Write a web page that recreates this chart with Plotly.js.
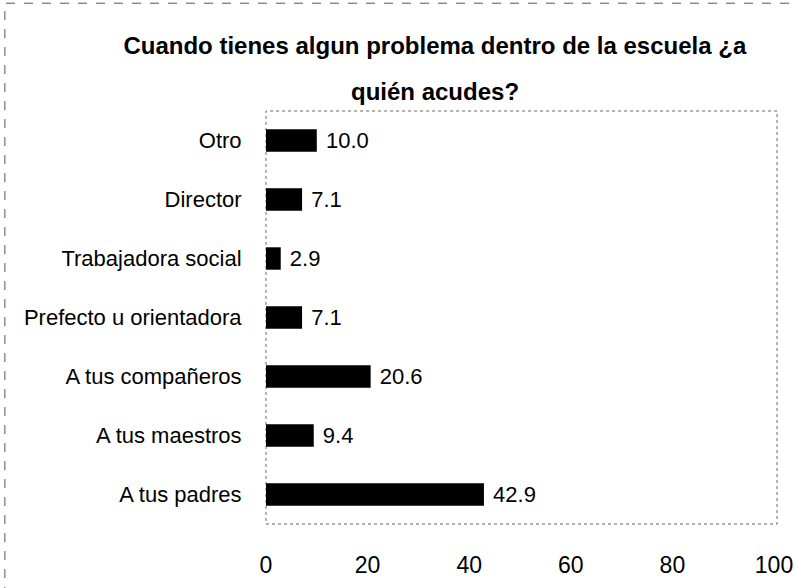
<!DOCTYPE html>
<html>
<head>
<meta charset="utf-8">
<script src="https://cdn.plot.ly/plotly-3.0.1.min.js"></script>
<style>html,body{margin:0;padding:0;background:#fff;}#chart{width:795px;height:588px;}</style>
</head>
<body>
<div id="chart"></div>
<script>
var categories = ["A tus padres", "A tus maestros", "A tus compañeros", "Prefecto u orientadora", "Trabajadora social", "Director", "Otro"];
var values = [42.9, 9.4, 20.6, 7.1, 2.9, 7.1, 10.0];
var xTicks = [0, 20, 40, 60, 80, 100];
var titleLine1 = "Cuando tienes algun problema dentro de la escuela ¿a";
var titleLine2 = "quién acudes?";

var font = "Liberation Sans, Arial, sans-serif";

var trace = {
  type: "bar",
  orientation: "h",
  y: categories,
  x: values,
  marker: {color: "#000000"},
  width: 0.38,
  text: values.map(function(v){return "\u00a0" + v.toFixed(1);}),
  textposition: "outside",
  constraintext: "none",
  textfont: {family: font, size: 22, color: "#000"},
  cliponaxis: false,
  hoverinfo: "skip"
};

var layout = {
  width: 795, height: 588,
  paper_bgcolor: "#fff", plot_bgcolor: "#fff",
  margin: {l: 266, r: 21, t: 111, b: 64},
  showlegend: false,
  title: {
    text: "<b>" + titleLine1 + "</b>",
    font: {family: font, size: 24, color: "#000"},
    x: 0.547, xref: "container", xanchor: "center",
    y: 0.923, yref: "container", yanchor: "middle"
  },
  annotations: [{
    text: "<b>" + titleLine2 + "</b>",
    xref: "paper", yref: "paper",
    x: 0.332, y: 1.047, xanchor: "center", yanchor: "middle",
    showarrow: false,
    font: {family: font, size: 24, color: "#000"}
  }],
  xaxis: {
    range: [0, 100],
    tickvals: xTicks,
    ticktext: xTicks.map(String),
    showgrid: false, zeroline: false, showline: false,
    ticks: "outside", ticklen: 20, tickcolor: "rgba(0,0,0,0)",
    ticklabeloverflow: "allow",
    tickfont: {family: font, size: 23, color: "#000"},
    fixedrange: true
  },
  yaxis: {
    categoryorder: "array", categoryarray: categories,
    showgrid: false, zeroline: false,
    showline: false,
    ticks: "outside", ticklen: 19, tickcolor: "rgba(0,0,0,0)",
    tickfont: {family: font, size: 22, color: "#000"},
    fixedrange: true
  },
  shapes: [
    {type: "rect", xref: "paper", yref: "paper", x0: 0, x1: 1.006, y0: 0, y1: 1,
     line: {color: "#666", width: 1, dash: "dot"}, layer: "below"},
    {type: "rect", xref: "paper", yref: "paper", x0: -0.514, x1: 1.2, y0: -0.3, y1: 1.261,
     line: {color: "#555", width: 1, dash: "dash"}, layer: "below"}
  ]
};

Plotly.newPlot("chart", [trace], layout, {displayModeBar: false, staticPlot: true});
</script>
</body>
</html>
